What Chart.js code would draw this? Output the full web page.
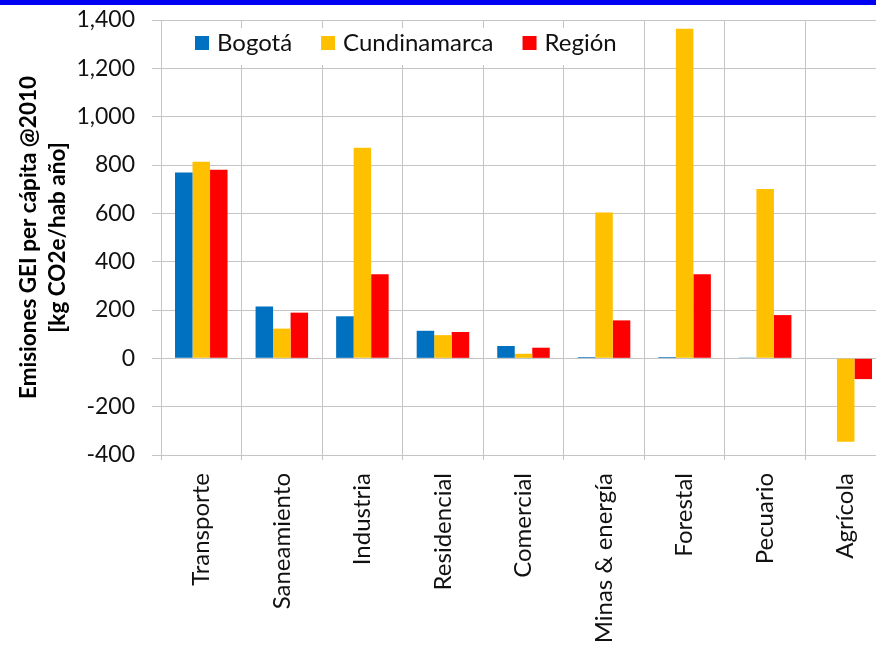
<!DOCTYPE html>
<html>
<head>
<meta charset="utf-8">
<script src="https://cdn.jsdelivr.net/npm/chart.js@4/dist/chart.umd.min.js"></script>
<style>
  html, body { margin: 0; padding: 0; width: 876px; height: 648px; overflow: hidden; background: #ffffff; }
  #band { position: absolute; left: 0; top: 0; width: 876px; height: 5px; background: #0000f2; z-index: 2; }
  #wrap { position: absolute; left: 0; top: 0; width: 900px; height: 648px; }
</style>
</head>
<body>
<div id="band"></div>
<div id="wrap"><canvas id="c"></canvas></div>
<script>
// Sectors
const categories = ['Transporte', 'Saneamiento', 'Industria', 'Residencial', 'Comercial',
                    'Minas & energía', 'Forestal', 'Pecuario', 'Agrícola'];

// Per-capita GHG emissions, kg CO2e per inhabitant per year (2010)
const bogota       = [769, 214, 174, 114, 51,   5,    5,   3,    0];
const cundinamarca = [813, 123, 871,  96, 19, 603, 1364, 701, -345];
const region       = [780, 189, 348, 109, 44, 157,  348, 179,  -86];

const seriesNames = ['Bogotá', 'Cundinamarca', 'Región'];
const seriesColors = ['#0070c0', '#ffc000', '#ff0000'];

const yTickValues = [-400, -200, 0, 200, 400, 600, 800, 1000, 1200, 1400];
const yTitle = ['Emisiones GEI per cápita @2010', '[kg CO2e/hab año]'];

const GRID = '#c4c4c4';
const FONT = 'Lato, "Open Sans", sans-serif';

// Legend drawn inside the plot area, on a white box over the grid
const innerLegend = {
  id: 'innerLegend',
  beforeDatasetsDraw(chart) {
    const ctx = chart.ctx;
    const area = chart.chartArea;
    const boxTop = area.top + 8, boxBottom = area.top + 45;
    const startX = area.left + 34;
    ctx.save();
    ctx.font = '24px ' + FONT;
    let x = startX;
    const items = chart.data.datasets.map(ds => {
      const w = ctx.measureText(ds.label).width;
      const it = { label: ds.label, color: ds.backgroundColor, x };
      x += 14 + 8 + w + 29;
      return it;
    });
    const boxLeft = area.left + 12, boxRight = x - 29 + 10;
    ctx.fillStyle = '#ffffff';
    ctx.fillRect(boxLeft, boxTop, boxRight - boxLeft, boxBottom - boxTop);
    ctx.textBaseline = 'alphabetic';
    ctx.textAlign = 'left';
    items.forEach(it => {
      ctx.fillStyle = it.color;
      ctx.fillRect(it.x, area.top + 16, 14, 14);
      ctx.fillStyle = '#111111';
      ctx.fillText(it.label, it.x + 22, area.top + 31);
    });
    ctx.restore();
  }
};

new Chart(document.getElementById('c'), {
  type: 'bar',
  data: {
    labels: categories,
    datasets: [bogota, cundinamarca, region].map((vals, i) => ({
      label: seriesNames[i],
      data: vals,
      backgroundColor: seriesColors[i],
      borderWidth: 0,
      categoryPercentage: 0.652,
      barPercentage: 1.0
    }))
  },
  options: {
    responsive: true,
    maintainAspectRatio: false,
    animation: false,
    devicePixelRatio: 1,
    layout: { padding: { top: 20, right: 14, bottom: 0, left: 0 } },
    plugins: {
      legend: { display: false },
      tooltip: { enabled: false }
    },
    scales: {
      x: {
        grid: { color: GRID, lineWidth: 1, offset: true, tickLength: 5 },
        border: { color: GRID },
        ticks: {
          color: '#111111',
          font: { family: FONT, size: 24 },
          minRotation: 90, maxRotation: 90,
          padding: 13,
          autoSkip: false
        },
        afterFit(scale) { scale.height = 193; }
      },
      y: {
        min: -400, max: 1400,
        afterBuildTicks(scale) { scale.ticks = yTickValues.map(v => ({ value: v })); },
        grid: { color: GRID, lineWidth: 1, tickLength: 9 },
        border: { color: GRID },
        ticks: {
          color: '#111111',
          font: { family: FONT, size: 23 },
          padding: 17,
          callback: v => v.toLocaleString('en-US')
        },
        title: {
          display: true,
          text: yTitle,
          color: '#000000',
          font: { family: FONT, size: 22.5, weight: 'bold', lineHeight: 1.29 },
          padding: { top: 14, bottom: 0 }
        },
        afterFit(scale) {
          scale.width = 161;
          scale.paddingTop = 0;
          scale.paddingBottom = 0;
        }
      }
    }
  },
  plugins: [innerLegend]
});
</script>
</body>
</html>
